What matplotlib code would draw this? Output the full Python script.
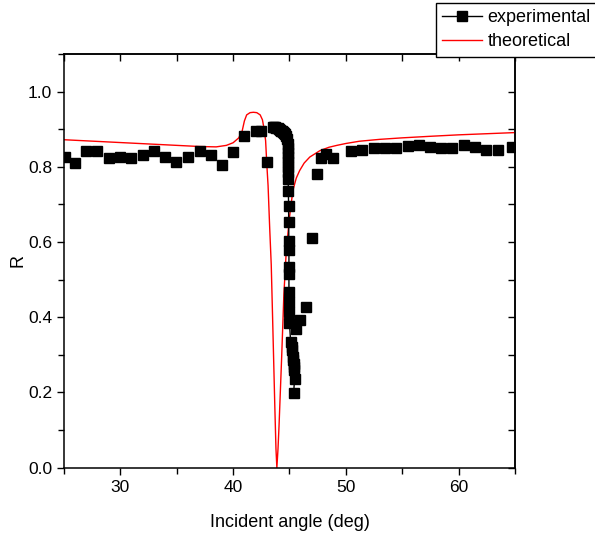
import matplotlib
matplotlib.use('Agg')
import matplotlib.pyplot as plt
from matplotlib.lines import Line2D
from matplotlib.ticker import MultipleLocator, FormatStrFormatter

plt.rcParams['font.family'] = ['Liberation Sans', 'DejaVu Sans']

# coarse angular scan (markers only)
scan_angle = [25.06, 26.0, 26.98, 27.96, 28.99, 29.96, 30.97, 32.0, 33.0, 34.0,
              34.96, 35.97, 37.03, 38.0, 38.98, 39.98, 41.0, 42.06, 42.5, 43.03,
              45.54, 45.96, 46.5, 46.99, 47.46, 47.8, 48.28, 48.85,
              50.48, 51.46, 52.46, 53.46, 54.47, 55.47, 56.45, 57.42, 58.48,
              59.43, 60.5, 61.44, 62.45, 63.48, 64.75]
scan_r = [0.827, 0.81, 0.841, 0.841, 0.823, 0.827, 0.823, 0.832, 0.841, 0.826,
          0.812, 0.827, 0.841, 0.832, 0.804, 0.839, 0.881, 0.896, 0.896, 0.812,
          0.370, 0.392, 0.427, 0.611, 0.781, 0.824, 0.835, 0.824,
          0.841, 0.845, 0.849, 0.850, 0.851, 0.855, 0.857, 0.854, 0.849,
          0.850, 0.857, 0.852, 0.845, 0.845, 0.852]

# fine scan around the resonance (connected)
fine_angle = [43.53, 43.65, 43.75, 43.83, 43.95, 44.05, 44.12, 44.22, 44.32, 44.41,
              44.52, 44.62, 44.72, 44.8, 44.86, 44.85, 44.85, 44.85, 44.85, 44.86,
              44.87, 44.88, 44.9, 44.92, 44.93, 44.94, 44.95, 44.95, 44.95,
              44.95, 45.0, 45.0, 45.0, 45.1, 45.2, 45.25, 45.3, 45.33, 45.37,
              45.4, 45.43, 45.45, 45.37]
fine_r = [0.907, 0.906, 0.905, 0.904, 0.902, 0.900, 0.898, 0.896, 0.894, 0.892,
          0.889, 0.886, 0.883, 0.874, 0.861, 0.850, 0.838, 0.825, 0.812, 0.799,
          0.786, 0.768, 0.737, 0.697, 0.653, 0.604, 0.578, 0.534, 0.516,
          0.467, 0.441, 0.414, 0.385, 0.334, 0.322, 0.312, 0.295, 0.286, 0.277,
          0.268, 0.259, 0.237, 0.199]

# theoretical curve
theo_angle = [25.0, 27.0, 29.0, 31.0, 33.0, 35.0, 37.0, 38.5, 39.4, 40.0,
              40.5, 40.8, 41.0, 41.2, 41.5, 41.8, 42.1, 42.4, 42.6, 42.75,
              42.88, 43.0, 43.1, 43.24, 43.38, 43.5, 43.6, 43.7, 43.8, 43.88,
              43.98, 44.07, 44.3, 44.5, 44.72, 45.0, 45.3, 45.6, 45.9, 46.3,
              46.8, 47.7, 48.5, 49.2, 50.0, 51.2, 53.0, 55.0, 57.4, 60.0,
              62.5, 65.0]
theo_r = [0.872, 0.869, 0.866, 0.863, 0.860, 0.857, 0.854, 0.853, 0.857, 0.864,
          0.877, 0.895, 0.922, 0.938, 0.944, 0.945, 0.944, 0.938, 0.925, 0.900,
          0.870, 0.800, 0.750, 0.640, 0.540, 0.400, 0.280, 0.160, 0.050, 0.0,
          0.050, 0.110, 0.290, 0.460, 0.580, 0.666, 0.737, 0.770, 0.790, 0.810,
          0.826, 0.843, 0.852, 0.857, 0.862, 0.868, 0.873, 0.877, 0.881, 0.885,
          0.888, 0.891]

fig = plt.figure(figsize=(5.95, 5.36), dpi=100)
ax = fig.add_axes([0.1076, 0.1274, 0.7579, 0.7719])

ax.plot(theo_angle, theo_r, '-', color='red', lw=1.0, zorder=2)
ax.plot(scan_angle, scan_r, 's', color='black', ms=7, lw=0, zorder=3)
ax.plot(fine_angle, fine_r, 's-', color='black', ms=7, lw=1.0, zorder=3)

ax.set_xlim(25, 65)
ax.set_ylim(0, 1.1)
ax.xaxis.set_major_locator(MultipleLocator(10))
ax.xaxis.set_minor_locator(MultipleLocator(5))
ax.yaxis.set_major_locator(MultipleLocator(0.2))
ax.yaxis.set_minor_locator(MultipleLocator(0.1))
ax.yaxis.set_major_formatter(FormatStrFormatter('%.1f'))
ax.set_xticks([30, 40, 50, 60])

for s in ax.spines.values():
    s.set_linewidth(1.1)
ax.tick_params(which='major', direction='out', length=5, width=1, labelsize=12.5)
ax.tick_params(which='minor', direction='out', length=4, width=1)

top = ax.secondary_xaxis('top')
top.xaxis.set_major_locator(MultipleLocator(10))
top.xaxis.set_minor_locator(MultipleLocator(5))
top.tick_params(which='both', direction='in', length=5, width=1, labeltop=False)
top.spines['top'].set_linewidth(1.1)
right = ax.secondary_yaxis('right')
right.yaxis.set_major_locator(MultipleLocator(0.2))
right.yaxis.set_minor_locator(MultipleLocator(0.1))
right.tick_params(which='both', direction='in', length=5, width=1, labelright=False)
right.spines['right'].set_linewidth(1.1)

ax.set_xlabel('Incident angle (deg)', fontsize=13)
ax.set_ylabel('R', fontsize=13)
ax.xaxis.set_label_coords(0.5, -0.112)
ax.yaxis.set_label_coords(-0.084, 0.5)

handles = [Line2D([], [], color='black', marker='s', ms=7, lw=1),
           Line2D([], [], color='red', lw=1)]
leg = fig.legend(handles, ['experimental', 'theoretical'], loc='upper left',
                 bbox_to_anchor=(0.733, 0.995), fontsize=13, frameon=True,
                 fancybox=False, edgecolor='black', framealpha=1,
                 handlelength=2.2, handletextpad=0.3, borderpad=0.35,
                 labelspacing=0.4, borderaxespad=0)
leg.get_frame().set_linewidth(1.0)

fig.savefig('out.png', dpi=100)
